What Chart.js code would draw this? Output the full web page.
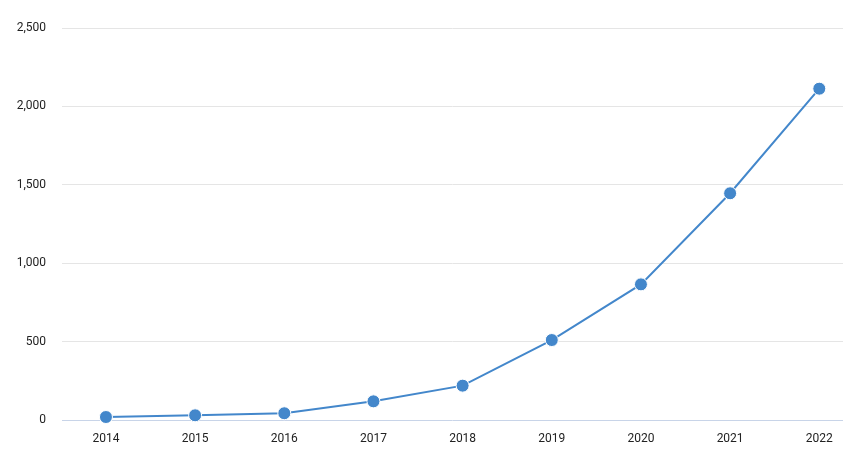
<!DOCTYPE html>
<html>
<head>
<meta charset="utf-8">
<script src="https://cdn.jsdelivr.net/npm/chart.js@4/dist/chart.umd.min.js"></script>
<style>
html,body{margin:0;padding:0;background:#fff;overflow:hidden;}
#wrap{width:843px;height:453px;position:relative;}
</style>
</head>
<body>
<div id="wrap"><canvas id="c"></canvas></div>
<script>
const years = [2014, 2015, 2016, 2017, 2018, 2019, 2020, 2021, 2022];
const values = [19, 30, 43, 119, 219, 510, 865, 1446, 2113];
const yTicks = [0, 500, 1000, 1500, 2000, 2500];

const color = '#4387cb';
new Chart(document.getElementById('c'), {
  type: 'line',
  data: {
    datasets: [{
      data: years.map((y, i) => ({x: y, y: values[i]})),
      borderColor: color,
      borderWidth: 2,
      backgroundColor: color,
      pointBackgroundColor: color,
      pointBorderColor: '#ffffff',
      pointBorderWidth: 1,
      pointRadius: 6.5,
      tension: 0,
      clip: false
    }]
  },
  options: {
    responsive: true,
    maintainAspectRatio: false,
    animation: false,
    layout: {autoPadding: false, padding: {top: 28, right: 0, left: 0, bottom: 0}},
    plugins: {legend: {display: false}, tooltip: {enabled: false}},
    scales: {
      x: {
        type: 'linear',
        min: 2013.507,
        max: 2022.266,
        afterBuildTicks: (s) => { s.ticks = years.map(v => ({value: v})); },
        afterFit: (s) => { s.height = 33; s.paddingLeft = 0; s.paddingRight = 0; },
        grid: {display: false, drawTicks: false},
        border: {display: false},
        ticks: {
          padding: 12,
          color: '#222',
          font: {family: 'Roboto', size: 12},
          callback: (v) => String(v),
          maxRotation: 0,
          autoSkip: false
        }
      },
      y: {
        min: 0,
        max: 2500,
        afterBuildTicks: (s) => { s.ticks = yTicks.map(v => ({value: v})); },
        afterFit: (s) => { s.width = 62; },
        grid: {
          drawTicks: false,
          color: (ctx) => ctx.tick && ctx.tick.value === 0 ? '#c8d4e8' : '#e5e5e5',
          lineWidth: 1
        },
        border: {display: false},
        ticks: {
          padding: 16,
          color: '#222',
          font: {family: 'Roboto', size: 12},
          callback: (v) => v.toLocaleString('en-US')
        }
      }
    }
  }
});
</script>
</body>
</html>
